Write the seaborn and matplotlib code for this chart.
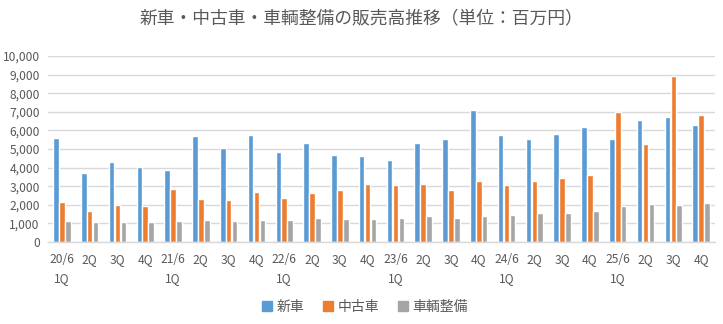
import matplotlib
matplotlib.use("Agg")
import matplotlib.pyplot as plt
import seaborn as sns
import pandas as pd

# Quarter labels (trailing spaces keep repeated labels as distinct categories)
quarters = ["20/6\n1Q", "2Q", "3Q", "4Q",
            "21/6\n1Q", "2Q ", "3Q ", "4Q ",
            "22/6\n1Q", "2Q  ", "3Q  ", "4Q  ",
            "23/6\n1Q", "2Q   ", "3Q   ", "4Q   ",
            "24/6\n1Q", "2Q    ", "3Q    ", "4Q    ",
            "25/6\n1Q", "2Q     ", "3Q     ", "4Q     "]
new_cars = [5600, 3700, 4300, 4050, 3880, 5700, 5050, 5750,
            4850, 5310, 4680, 4620, 4400, 5310, 5530, 7100,
            5750, 5530, 5800, 6180, 5530, 6560, 6720, 6290]
used_cars = [2150, 1660, 1980, 1940, 2850, 2310, 2250, 2690,
             2360, 2630, 2790, 3110, 3060, 3110, 2790, 3270,
             3060, 3270, 3440, 3600, 6990, 5270, 8930, 6830]
service = [1130, 1070, 1080, 1080, 1130, 1170, 1130, 1180,
           1180, 1280, 1230, 1230, 1280, 1390, 1280, 1390,
           1440, 1550, 1550, 1660, 1930, 2040, 1980, 2090]
series_names = ["新車", "中古車", "車輌整備"]
colors = ["#5B9BD5", "#ED7D31", "#A5A5A5"]

rows = []
for name, vals in zip(series_names, [new_cars, used_cars, service]):
    for q, v in zip(quarters, vals):
        rows.append({"quarter": q, "series": name, "value": v})
df = pd.DataFrame(rows)

sns.set_theme(style="white")
plt.rcParams["font.family"] = ["Noto Sans CJK JP", "DejaVu Sans"]

fig = plt.figure(figsize=(7.23, 3.24), dpi=100)
ax = fig.add_axes([48 / 723, 1 - 242 / 324, (715 - 48) / 723, (242 - 56) / 324])

sns.barplot(data=df, x="quarter", y="value", hue="series", order=quarters,
            hue_order=series_names, palette=colors, width=0.64, gap=0.06,
            errorbar=None, saturation=1, ax=ax, legend=False)

ax.set_ylim(0, 10000)
ax.set_xlim(-0.5, len(quarters) - 0.5)
ax.set_yticks(range(0, 10001, 1000))
ax.set_yticklabels([f"{v:,}" for v in range(0, 10001, 1000)])
ax.yaxis.grid(True, color="#D9D9D9", linewidth=1)
ax.set_axisbelow(True)
for side in ["left", "right", "top"]:
    ax.spines[side].set_visible(False)
ax.spines["bottom"].set_color("#D9D9D9")
ax.spines["bottom"].set_linewidth(1)
ax.tick_params(axis="both", length=0, colors="#595959", labelsize=8.7)
ax.tick_params(axis="x", pad=8)
ax.tick_params(axis="y", pad=6)
ax.set_xticks(range(len(quarters)))
ax.set_xticklabels([q.strip() for q in quarters], linespacing=1.55,
                   multialignment="center")
ax.set_xlabel("")
ax.set_ylabel("")

fig.text(0.5, 1 - 18 / 324, "新車・中古車・車輌整備の販売高推移（単位：百万円）",
         ha="center", va="center", fontsize=12.8, color="#595959")

handles = [plt.Rectangle((0, 0), 1, 1, color=c) for c in colors]
fig.legend(handles, series_names, loc="center", bbox_to_anchor=(0.505, 1 - 307 / 324),
           ncol=3, frameon=False, fontsize=10, handlelength=0.7, handleheight=0.7,
           handletextpad=0.3, columnspacing=1.4, labelcolor="#595959")

fig.savefig("out.png", dpi=100)
